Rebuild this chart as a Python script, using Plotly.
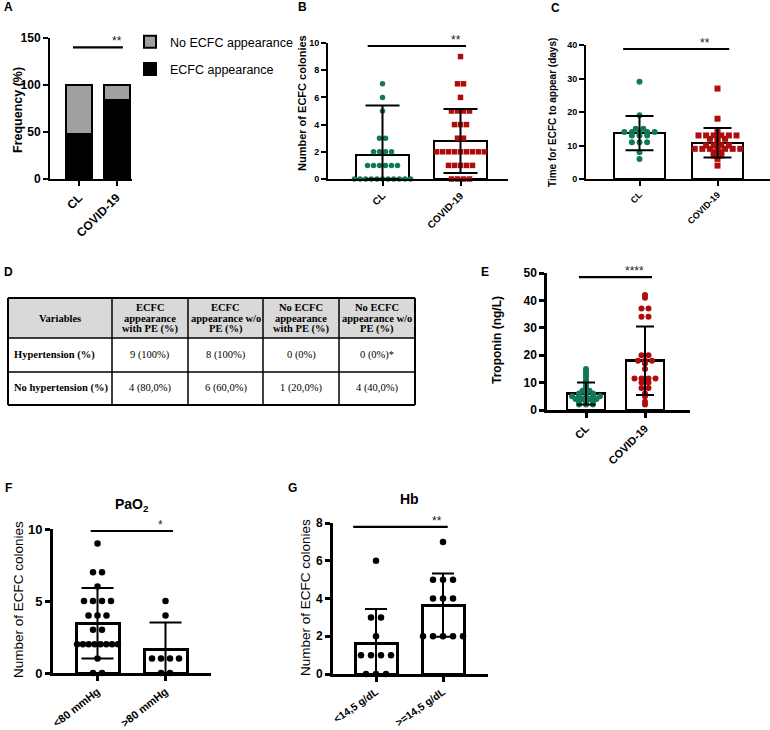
import plotly.graph_objects as go

W, H = 770, 730

# ---------------- DATA ----------------
groups_cl_covid = ["CL", "COVID-19"]
freq_ecfc = [48, 84]
freq_no_ecfc = [52, 16]

colonies_cl = [7, 6, 5, 3, 3, 2, 2, 2, 2, 1, 1, 1, 1, 1, 1, 0, 0, 0, 0, 0, 0, 0, 0, 0, 0, 0]
colonies_covid = [9, 7, 7, 6, 5, 5, 5, 5, 4, 4, 4, 3, 3, 2, 2, 2, 2, 2, 2, 2, 2, 2,
                  1, 1, 1, 1, 1, 0, 0, 0, 0]
colonies_mean = [1.75, 2.8]
colonies_sd = [3.65, 2.35]

days_cl = [29, 19, 15, 15, 14, 14, 14, 14, 14, 13, 13, 13, 11, 11, 11, 8, 6]
days_covid = [27, 18, 14, 13, 13, 13, 13, 13, 13, 12, 12, 12, 11, 10, 10, 10, 10,
              9, 9, 9, 9, 9, 9, 9, 8, 8, 7, 7, 6, 4]
days_mean = [13.7, 10.8]
days_sd = [5.1, 4.4]

trop_cl = [15, 14, 13, 12, 11, 10, 9, 8, 7, 7, 6, 6, 6, 5, 5, 5, 5, 5, 4, 4, 4, 4,
           3, 3, 3, 2, 2, 2]
trop_covid = [42, 41, 37, 37, 34, 34, 20, 20, 18, 18, 18, 17, 15, 11.5, 11.5, 11.5,
              11.5, 10, 10, 8, 8, 6, 5, 3, 2]
trop_mean = [6, 18]
trop_sd = [4, 12.5]

pao2_groups = ["<80 mmHg", ">80 mmHg"]
pao2_lt80 = [9, 7, 7, 6, 5, 5, 5, 5, 4, 4, 4, 3, 3, 2, 2, 2, 2, 2, 2, 2, 2, 1, 0, 0]
pao2_gt80 = [5, 4, 1, 1, 1, 1, 0, 0]
pao2_mean = [3.45, 1.6]
pao2_sd = [2.45, 1.9]

hb_groups = ["<14,5 g/dL", ">=14,5 g/dL"]
hb_lt = [6, 3, 3, 2, 1, 1, 1, 1, 0, 0, 0]
hb_ge = [7, 5, 5, 5, 4, 4, 4, 2, 2, 2, 2, 2]
hb_mean = [1.6, 3.65]
hb_sd = [1.85, 1.68]

table_header = ["Variables", "ECFC<br>appearance<br>with PE (%)", "ECFC<br>appearance w/o<br>PE (%)",
                "No ECFC<br>appearance<br>with PE (%)", "No ECFC<br>appearance w/o<br>PE (%)"]
table_rows = ["Hypertension (%)", "No hypertension (%)"]
table_col1 = ["9 (100%)", "4 (80,0%)"]
table_col2 = ["8 (100%)", "6 (60,0%)"]
table_col3 = ["0 (0%)", "1 (20,0%)"]
table_col4 = ["0 (0%)*", "4 (40,0%)"]

GREEN = "#11785a"
RED = "#b00c0c"
GRAY = "#a0a0a0"
FONT = "Liberation Sans"
SERIF = "Liberation Serif"


def esc(s):
    return s.replace("<", "&lt;").replace(">", "&gt;")


# ---------------- LAYOUT SPECS ----------------
panels = {
    "A": dict(n=1, L=50, R=132, c=(79, 116.5), ybot=179, ytop=38, ymax=150, dtick=50, lw=2, ang=-45,
              labels=groups_cl_covid, tfs=12, xfs=12, xw="bold", sig=(140, -0.16, 1.17, 1.0, "**"), cap=0),
    "B": dict(n=2, L=328, R=508, c=(382.5, 460.5), ybot=179, ytop=43, ymax=10, dtick=2, lw=2, ang=-45,
              labels=groups_cl_covid, tfs=9, xfs=10, xw="bold", sig=(9.78, -0.19, 1.07, 0.94, "**"), cap=17),
    "C": dict(n=3, L=586, R=770, c=(639.5, 717.5), ybot=179, ytop=45, ymax=40, dtick=10, lw=2, ang=-45,
              labels=groups_cl_covid, tfs=9, xfs=9, xw="bold", sig=(38.8, -0.21, 1.15, 0.84, "**"), cap=14),
    "E": dict(n=4, L=547, R=690, c=(586, 645), ybot=410, ytop=273, ymax=50, dtick=10, lw=2.5, ang=-45,
              labels=groups_cl_covid, tfs=12, xfs=11, xw="bold", sig=(48.5, -0.12, 1.12, 0.83, "****"), cap=9),
    "F": dict(n=5, L=53, R=211, c=(97.5, 165.5), ybot=673, ytop=529, ymax=10, dtick=5, lw=3, ang=-38,
              labels=pao2_groups, tfs=13, xfs=11, xw="bold", sig=(9.86, -0.1, 1.11, 0.92, "*"), cap=16),
    "G": dict(n=6, L=333, R=488, c=(376, 443), ybot=674, ytop=523, ymax=8, dtick=2, lw=3, ang=-35,
              labels=hb_groups, tfs=12, xfs=10.5, xw="bold", sig=(7.79, -0.34, 1.07, 0.91, "**"), cap=11),
}

# table geometry (pixels)
tab_cols = [8, 112, 188, 263, 339, 415]
tab_rows = [298, 338, 372, 405]


def axname(n, a):
    return a if n == 1 else f"{a}{n}"


def swarm(vals, center, step, maxhalf):
    counts = {}
    order = []
    for v in vals:
        if v not in counts:
            counts[v] = 0
            order.append(v)
        counts[v] += 1
    xs, ys = [], []
    for v in order:
        k = counts[v]
        s = step
        if k > 1 and (k - 1) * step / 2 > maxhalf:
            s = 2 * maxhalf / (k - 1)
        for i in range(k):
            xs.append(center + (i - (k - 1) / 2) * s)
            ys.append(v)
    return xs, ys


fig = go.Figure()
layout = {}

for key, p in panels.items():
    n = p["n"]
    sp = p["c"][1] - p["c"][0]
    xr = [(p["L"] - p["c"][0]) / sp, (p["R"] - p["c"][0]) / sp]
    layout[axname(n, "xaxis")] = dict(
        domain=[p["L"] / W, min(1, p["R"] / W)], range=xr, anchor=axname(n, "y"),
        tickvals=[0, 1], ticktext=[esc(t) for t in p["labels"]], tickangle=p["ang"], automargin=False,
        showline=True, linewidth=p["lw"], linecolor="black", ticks="outside", ticklen=5,
        tickwidth=p["lw"], tickcolor="black", showgrid=False, zeroline=False,
        tickfont=dict(family=FONT, size=p["xfs"], color="black", weight=p["xw"]))
    layout[axname(n, "yaxis")] = dict(
        domain=[1 - p["ybot"] / H, 1 - p["ytop"] / H], range=[0, p["ymax"]], anchor=axname(n, "x"),
        tick0=0, dtick=p["dtick"], showline=True, linewidth=p["lw"], linecolor="black", automargin=False,
        ticks="outside", ticklen=5, tickwidth=p["lw"], tickcolor="black", showgrid=False,
        zeroline=False, tickfont=dict(family=FONT, size=p["tfs"], color="black", weight="bold"))

# ---- Panel A: stacked bars
bw_a = 26 / 37.5
fig.add_trace(go.Bar(x=[0, 1], y=freq_ecfc, width=bw_a, name="ECFC appearance",
                     marker=dict(color="black", line=dict(color="black", width=2)),
                     xaxis="x", yaxis="y", legendgroup="g1", legendrank=2))
fig.add_trace(go.Bar(x=[0, 1], y=freq_no_ecfc, width=bw_a, name="No ECFC appearance",
                     marker=dict(color=GRAY, line=dict(color="black", width=2)),
                     xaxis="x", yaxis="y", legendgroup="g2", legendrank=1))


def scatter_panel(key, means, sds, groups, colors, symbols, size, step_px, maxhalf, bar_px):
    p = panels[key]
    n = p["n"]
    xa, ya = axname(n, "x"), axname(n, "y")
    sp = p["c"][1] - p["c"][0]
    fig.add_trace(go.Bar(x=[0, 1], y=means, width=bar_px / sp, showlegend=False,
                         marker=dict(color="white", line=dict(color="black", width=p["lw"])),
                         xaxis=xa, yaxis=ya, hoverinfo="skip"))
    for i, vals in enumerate(groups):
        xs, ys = swarm(vals, i, step_px / sp, maxhalf)
        fig.add_trace(go.Scatter(x=xs, y=ys, mode="markers", showlegend=False, cliponaxis=False,
                                 marker=dict(color=colors[i], symbol=symbols[i], size=size),
                                 xaxis=xa, yaxis=ya))
    fig.add_trace(go.Scatter(
        x=[0, 1], y=means, mode="markers", marker=dict(size=1, color="rgba(0,0,0,0)"),
        showlegend=False, xaxis=xa, yaxis=ya, hoverinfo="skip",
        error_y=dict(type="data", symmetric=False, array=sds,
                     arrayminus=[min(s, m) for s, m in zip(sds, means)],
                     color="black", thickness=2, width=p["cap"])))


scatter_panel("B", colonies_mean, colonies_sd, [colonies_cl, colonies_covid], [GREEN, RED],
              ["circle", "square"], 5.5, 6.0, 0.36, 53)
scatter_panel("C", days_mean, days_sd, [days_cl, days_covid], [GREEN, RED],
              ["circle", "square"], 6, 7.6, 0.36, 51)
scatter_panel("E", trop_mean, trop_sd, [trop_cl, trop_covid], [GREEN, RED],
              ["circle", "circle"], 6, 7.0, 0.34, 38)
scatter_panel("F", pao2_mean, pao2_sd, [pao2_lt80, pao2_gt80], ["black", "black"],
              ["circle", "circle"], 6.5, 9.0, 0.3, 43)
scatter_panel("G", hb_mean, hb_sd, [hb_lt, hb_ge], ["black", "black"],
              ["circle", "circle"], 6.5, 10.0, 0.32, 42)

annotations = []
shapes = []
# significance lines and stars
for key, p in panels.items():
    n = p["n"]
    xa, ya = axname(n, "x"), axname(n, "y")
    yv, x0, x1, xs, stars = p["sig"]
    fig.add_trace(go.Scatter(x=[x0, x1], y=[yv, yv], mode="lines", showlegend=False,
                             line=dict(color="black", width=2.2), xaxis=xa, yaxis=ya,
                             cliponaxis=False, hoverinfo="skip"))
    annotations.append(dict(x=xs, y=yv, xref=xa, yref=ya, text=stars, showarrow=False,
                            yanchor="bottom", yshift=-3,
                            font=dict(family=FONT, size=12, color="#222")))


def txt(x, y, text, size, weight="bold", angle=0, xanchor="center", family=FONT):
    annotations.append(dict(x=x / W, y=1 - y / H, xref="paper", yref="paper", text=text,
                            showarrow=False, textangle=angle, xanchor=xanchor, yanchor="middle",
                            font=dict(family=family, size=size, color="black", weight=weight)))


# ---- Table D (drawn with shapes + text)
shapes.append(dict(type="rect", xref="paper", yref="paper",
                   x0=tab_cols[0] / W, x1=tab_cols[-1] / W,
                   y0=1 - tab_rows[1] / H, y1=1 - tab_rows[0] / H,
                   fillcolor="#d9d9d9", line=dict(width=0), layer="below"))
for cx in tab_cols:
    shapes.append(dict(type="line", xref="paper", yref="paper", x0=cx / W, x1=cx / W,
                       y0=1 - tab_rows[-1] / H, y1=1 - tab_rows[0] / H,
                       line=dict(color="black", width=2 if cx in (tab_cols[0], tab_cols[-1]) else 1.5)))
for ry in tab_rows:
    shapes.append(dict(type="line", xref="paper", yref="paper", x0=tab_cols[0] / W, x1=tab_cols[-1] / W,
                       y0=1 - ry / H, y1=1 - ry / H,
                       line=dict(color="black", width=2 if ry in (tab_rows[0], tab_rows[-1]) else 1.5)))

hdr_mid = (tab_rows[0] + tab_rows[1]) / 2
for j, h in enumerate(table_header):
    cxm = (tab_cols[j] + tab_cols[j + 1]) / 2
    lines = h.split("<br>")
    for k, ln in enumerate(lines):
        yy = hdr_mid + (k - (len(lines) - 1) / 2) * 11
        txt(cxm, yy, ln, 10.5, family=SERIF)

cols = [table_col1, table_col2, table_col3, table_col4]
for i, r in enumerate(table_rows):
    ymid = (tab_rows[i + 1] + tab_rows[i + 2]) / 2
    txt(tab_cols[0] + 4, ymid, r, 10.5, family=SERIF, xanchor="left")
    for j, col in enumerate(cols):
        cxm = (tab_cols[j + 1] + tab_cols[j + 2]) / 2
        txt(cxm, ymid, col[i], 10.5, weight="normal", family=SERIF)

# panel letters
for letter, (lx, ly) in {"A": (8, 7), "B": (302, 7), "C": (555, 8), "D": (8, 272),
                         "E": (485, 272), "F": (8, 488), "G": (292, 488)}.items():
    txt(lx, ly, letter, 12, xanchor="center")

# axis titles
txt(18, 110, "Frequency (%)", 12.5, angle=-90)
txt(302, 103, "Number of ECFC colonies", 11, angle=-90)
txt(553, 113, "Time for ECFC to appear (days)", 10, angle=-90)
txt(497, 340, "Troponin (ng/L)", 12, angle=-90)
txt(18, 600, "Number of ECFC colonies", 13.5, weight="normal", angle=-90)
txt(305, 598, "Number of ECFC colonies", 13.5, weight="normal", angle=-90)
txt(132, 505, "PaO<sub>2</sub>", 14)
txt(409, 499, "Hb", 14)

layout.update(dict(
    width=W, height=H, margin=dict(l=0, r=0, t=0, b=0, autoexpand=False),
    paper_bgcolor="white", plot_bgcolor="white", barmode="stack",
    font=dict(family=FONT, color="black"),
    showlegend=True,
    legend=dict(x=130 / W, y=1 - 27 / H, xanchor="left", yanchor="top", traceorder="grouped",
                tracegroupgap=8, font=dict(family=FONT, size=12.5, color="black"),
                bgcolor="rgba(0,0,0,0)"),
    annotations=annotations,
    shapes=shapes,
))
fig.update_layout(layout)

page_fix = (
    "document.documentElement.style.margin='0';"
    "document.documentElement.style.overflow='hidden';"
    "document.body.style.margin='0';"
    "document.body.style.overflow='hidden';"
    "var gd=document.querySelector('.plotly-graph-div');"
    "gd.style.position='fixed';gd.style.left='0px';gd.style.top='0px';"
)
fig.write_html("out.html", config={"displayModeBar": False}, post_script=page_fix)
